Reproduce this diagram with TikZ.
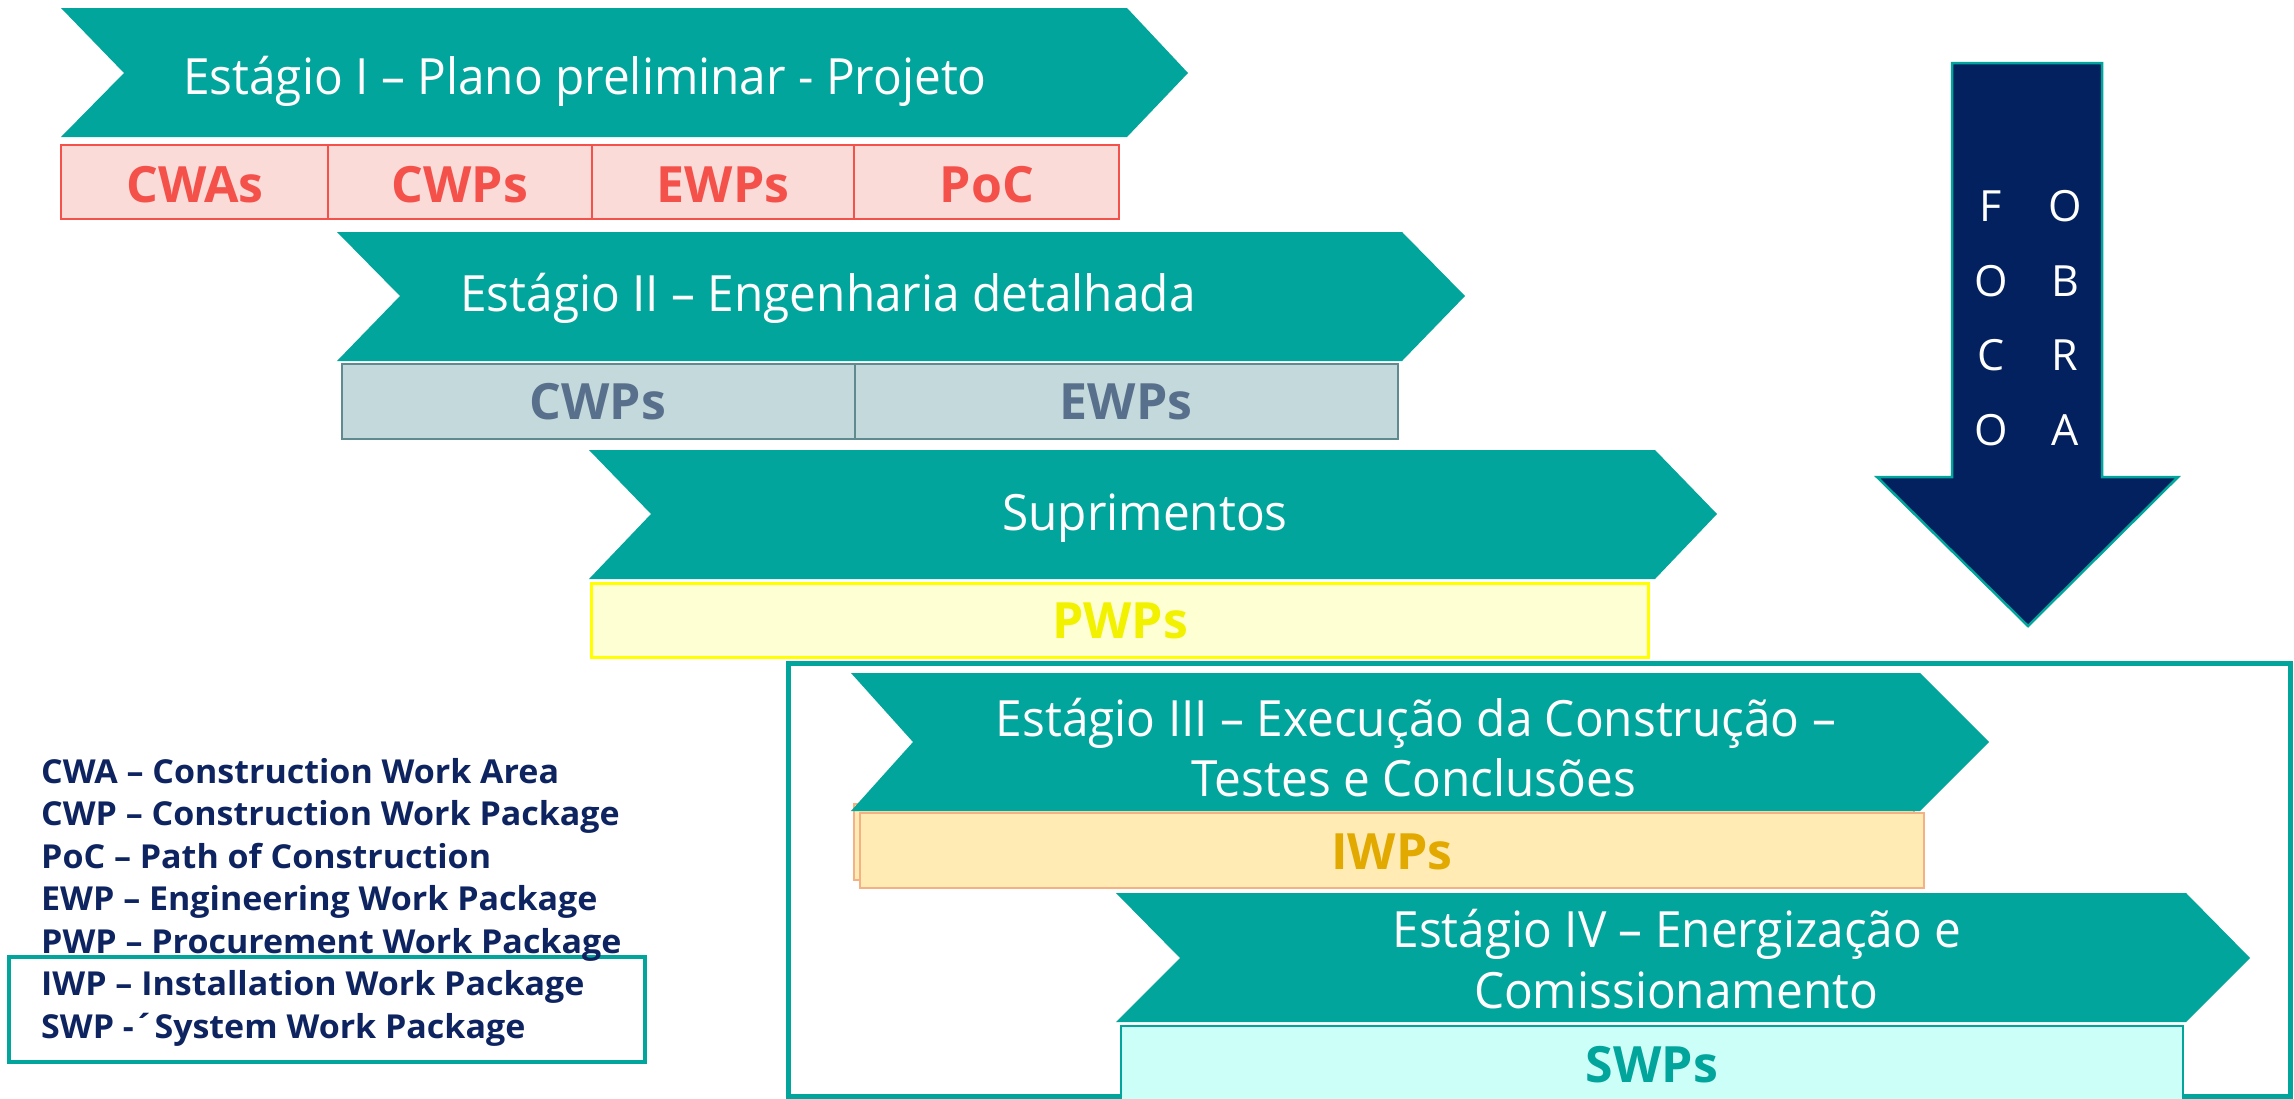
\documentclass[tikz,border=0pt]{standalone}
\usepackage{fontspec}
\setmainfont[FakeStretch=0.955]{Open Sans}
\newfontfamily\boxfont[FakeStretch=1.0]{Open Sans}
\newfontfamily\legfont[FakeStretch=1.03]{Open Sans}
\definecolor{tealc}{HTML}{01A59B}
\definecolor{navyc}{HTML}{03215E}
\definecolor{legc}{HTML}{0E2461}
\definecolor{pinkf}{HTML}{FADBD8}
\definecolor{redc}{HTML}{F4514B}
\definecolor{grayf}{HTML}{C3D9DB}
\definecolor{grayd}{HTML}{5F8A90}
\definecolor{grayt}{HTML}{58708C}
\definecolor{yelf}{HTML}{FFFFD4}
\definecolor{yeld}{HTML}{FFFF00}
\definecolor{yelt}{HTML}{F2F200}
\definecolor{orf}{HTML}{FFEBB3}
\definecolor{ord}{HTML}{F4B183}
\definecolor{ort}{HTML}{E2A900}
\definecolor{cyf}{HTML}{CCFFF7}
\tikzset{
  chev/.style={fill=tealc},
  ctext/.style={text=white, font=\fontsize{50}{60}\selectfont, inner sep=0pt, anchor=base},
  btext/.style={font=\boxfont\bfseries\fontsize{50}{60}\selectfont, inner sep=0pt, anchor=base},
  legtext/.style={text=legc, font=\legfont\bfseries\fontsize{33}{40}\selectfont, inner sep=0pt, anchor=base west},
  arrtext/.style={text=white, font=\boxfont\fontsize{43}{50}\selectfont, inner sep=0pt, anchor=base},
  rowA/.style={fill=pinkf, draw=redc, line width=2.5pt},
  rowB/.style={fill=grayf, draw=grayd, line width=2.5pt},
  rowC/.style={fill=yelf, draw=yeld, line width=3pt},
  rowD/.style={fill=orf, draw=ord, line width=2.5pt},
  rowE/.style={fill=cyf, draw=tealc, line width=2.5pt},
}
\begin{document}
\begin{tikzpicture}[x=1pt,y=-1pt]
\useasboundingbox[fill=white] (0,0) rectangle (2294,1098);
% frame around stages III and IV
\draw[tealc, line width=5pt] (788,663) rectangle (2290,1096);
% Stage I
\fill[chev] (61,8) -- (1127,8) -- (1188,73) -- (1127,137) -- (61,137) -- (124,73) -- cycle;
\node[ctext] (s1) at (585,94) {Estágio I – Plano preliminar - Projeto};
\draw[rowA] (61,145) rectangle (328,219);
\draw[rowA] (328,145) rectangle (592,219);
\draw[rowA] (592,145) rectangle (854,219);
\draw[rowA] (854,145) rectangle (1119,219);
\node[btext, text=redc] (a1) at (195,202) {CWAs};
\node[btext, text=redc] (a2) at (460,202) {CWPs};
\node[btext, text=redc] (a3) at (723,202) {EWPs};
\node[btext, text=redc] (a4) at (987,202) {PoC};
% Stage II
\fill[chev] (337,232) -- (1402,232) -- (1465,296) -- (1402,361) -- (337,361) -- (400,296) -- cycle;
\node[ctext] (s2) at (828,311) {Estágio II – Engenharia detalhada};
\draw[rowB] (342,364) rectangle (855,439);
\draw[rowB] (855,364) rectangle (1398,439);
\node[btext, text=grayt] (b1) at (598,419) {CWPs};
\node[btext, text=grayt] (b2) at (1126,419) {EWPs};
% Suprimentos
\fill[chev] (589,450) -- (1655,450) -- (1717,514) -- (1655,579) -- (589,579) -- (651,514) -- cycle;
\node[ctext] (s3) at (1145,530) {Suprimentos};
\draw[rowC] (591,583) rectangle (1648,657);
\node[btext, text=yelt] (c1) at (1120,638) {PWPs};
% Stage III
\draw[rowD] (854,804) rectangle (1914,880);
\fill[chev] (851,673) -- (1920,673) -- (1989,742) -- (1920,811) -- (851,811) -- (913,742) -- cycle;
\node[ctext] (s4a) at (1416,736) {Estágio III – Execução da Construção –};
\node[ctext] (s4b) at (1414,796) {Testes e Conclusões};
\draw[rowD] (860,813) rectangle (1924,888);
\node[btext, text=ort] (d1) at (1392,869) {IWPs};
% Stage IV
\fill[chev] (1116,893) -- (2186,893) -- (2250,958) -- (2186,1022) -- (1116,1022) -- (1180,958) -- cycle;
\node[ctext] (s5a) at (1677,947) {Estágio IV – Energização e};
\node[ctext] (s5b) at (1676,1008) {Comissionamento};
\draw[rowE] (1121,1026) rectangle (2183,1100);
\node[btext, text=tealc] (e1) at (1652,1082) {SWPs};
% arrow
\draw[fill=navyc, draw=tealc, line width=2.5pt] (1952,63) -- (2102,63) -- (2102,477) -- (2178,477) -- (2028,626) -- (1877,477) -- (1952,477) -- cycle;
\foreach \l/\y/\n in {F/221/1, O/296/2, C/370/3, O/445/4}
  \node[arrtext] (fl\n) at (1991,\y) {\l};
\foreach \l/\y/\n in {O/221/1, B/296/2, R/370/3, A/445/4}
  \node[arrtext] (ol\n) at (2065,\y) {\l};
% legend
\draw[tealc, line width=4pt] (9,957) rectangle (645,1062);
\node[legtext] (l1) at (41,783) {CWA – Construction Work Area};
\node[legtext] (l2) at (41,825.5) {CWP – Construction Work Package};
\node[legtext] (l3) at (41,868) {PoC – Path of Construction};
\node[legtext] (l4) at (41,910.5) {EWP – Engineering Work Package};
\node[legtext] (l5) at (41,953) {PWP – Procurement Work Package};
\node[legtext] (l6) at (41,995.5) {IWP – Installation Work Package};
\node[legtext] (l7) at (41,1038) {SWP -´System Work Package};
\end{tikzpicture}
\end{document}
